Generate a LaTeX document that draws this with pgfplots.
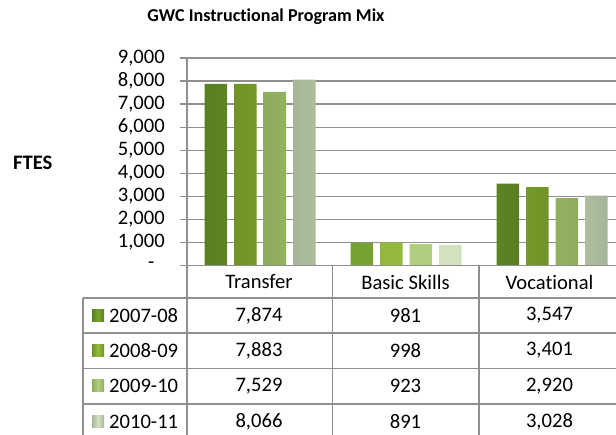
\documentclass[border=0pt]{standalone}
\usepackage{pgfplots}
\pgfplotsset{compat=1.18}
\usepackage{fontspec}
\setmainfont{Carlito}[Ligatures={NoCommon,NoRequired,NoContextual}]
\definecolor{gridgray}{HTML}{8F8F8F}
\definecolor{ca}{HTML}{5A7E20}\definecolor{cam}{HTML}{78A333}
\definecolor{cb}{HTML}{6F9326}\definecolor{cbm}{HTML}{94BB3F}
\definecolor{cc}{HTML}{8DAD5C}\definecolor{ccm}{HTML}{B1D07F}
\definecolor{cd}{HTML}{A6B698}\definecolor{cdm}{HTML}{D4E4C2}
\newcommand{\lbl}{\fontsize{20.6}{24}\selectfont}
\begin{document}
\begin{tikzpicture}[x=1pt,y=1pt]
\useasboundingbox (0,0) rectangle (616,435);
\clip (0,0) rectangle (616,435);
\begin{axis}[
  at={(187pt,169.5pt)}, anchor=south west,
  scale only axis, width=438pt, height=207.5pt,
  xmin=0, xmax=3, ymin=0, ymax=9000,
  ybar=7pt, bar width=22.5pt,
  axis x line=bottom, axis y line=left,
  axis line style={-, draw=gridgray, line width=1.3pt},
  xtick=\empty,
  ytick={0,1000,...,9000},
  yticklabels={-\hphantom{0},{1,000},{2,000},{3,000},{4,000},{5,000},{6,000},{7,000},{8,000},{9,000}},
  ymajorgrids, grid style={draw=gridgray, line width=1.3pt},
  tick align=outside, major tick length=7pt,
  ytick style={draw=gridgray, line width=1.3pt},
  yticklabel style={font=\lbl, inner sep=0pt, xshift=-15pt},
  /pgf/number format/assume math mode=true,
]
\addplot[draw=none, left color=ca, right color=ca, middle color=cam] coordinates {(0.5,7874) (1.5,981) (2.5,3547)};
\addplot[draw=none, left color=cb, right color=cb, middle color=cbm] coordinates {(0.5,7883) (1.5,998) (2.5,3401)};
\addplot[draw=none, left color=cc, right color=cc, middle color=ccm] coordinates {(0.5,7529) (1.5,923) (2.5,2920)};
\addplot[draw=none, left color=cd, right color=cd, middle color=cdm] coordinates {(0.5,8066) (1.5,891) (2.5,3028)};
\end{axis}
% title and axis title
\node[font=\fontsize{18.1}{22}\selectfont\bfseries] at (266,418) {GWC Instructional Program Mix};
\node[font=\fontsize{20.6}{24}\selectfont\bfseries, anchor=west, inner sep=0pt] at (13,272) {FTES};
% data table grid
\begin{scope}[draw=gridgray, line width=1.3pt]
\draw (187,169.5) -- (630,169.5);
\foreach \y in {137,102,66.5,31} \draw (83,\y) -- (630,\y);
\draw (83,137) -- (83,-5);
\foreach \x in {187,332.5,479,625} \draw (\x,169.5) -- (\x,-5);
\end{scope}
% header
\node[font=\lbl] at (259,153) {Transfer};
\node[font=\lbl] at (405.5,153) {Basic Skills};
\node[font=\lbl] at (549.5,153) {Vocational};
% rows
\foreach \yy/\lab/\ea/\eb/\a/\b/\c in {119.5/2007-08/ca/cam/{7,874}/981/{3,547},
    84.5/2008-09/cb/cbm/{7,883}/998/{3,401},
    49/2009-10/cc/ccm/{7,529}/923/{2,920},
    13.5/2010-11/cd/cdm/{8,066}/891/{3,028}}{
  \shade[left color=\ea, right color=\ea, middle color=\eb] (92,\yy-6) rectangle (104,\yy+6);
  \node[font=\lbl, anchor=west, inner sep=0pt] at (109,\yy) {\lab};
  \node[font=\lbl] at (259,\yy) {\a};
  \node[font=\lbl] at (405.5,\yy) {\b};
  \node[font=\lbl] at (549.5,\yy) {\c};
}
\end{tikzpicture}
\end{document}
